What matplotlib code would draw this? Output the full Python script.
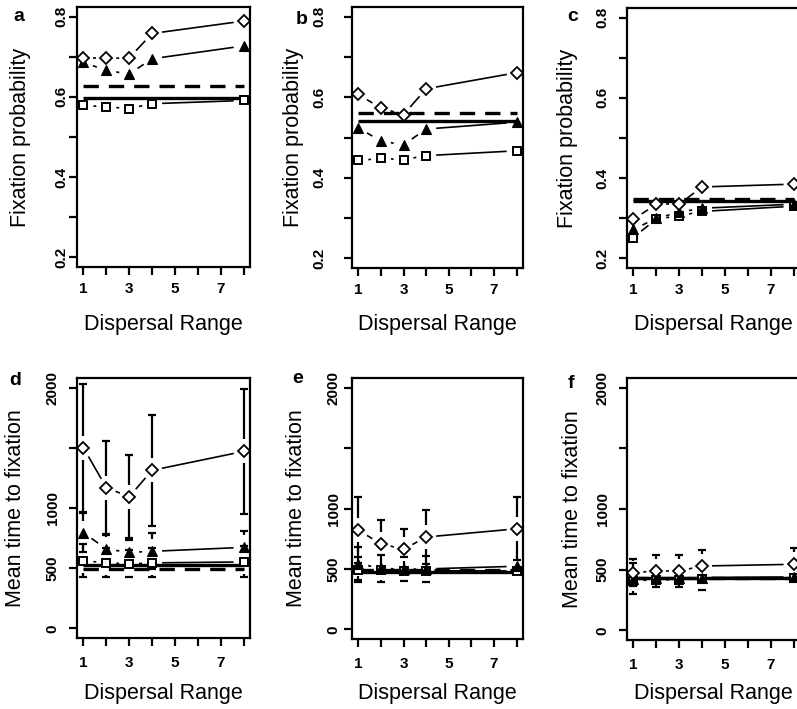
import numpy as np
import matplotlib
matplotlib.use('Agg')
import matplotlib.pyplot as plt

plt.rcParams['font.family'] = ['Liberation Sans', 'DejaVu Sans']

# ---------------- data ----------------
dispersal = [1, 2, 3, 4, 8]
x_ticks = [1, 2, 3, 4, 5, 6, 7, 8]
x_ticklabels = ['1', '', '3', '', '5', '', '7', '']
prob_ticks = [0.2, 0.3, 0.4, 0.5, 0.6, 0.7, 0.8]
prob_ticklabels = ['0.2', '', '0.4', '', '0.6', '', '0.8']
time_ticks = [0, 500, 1000, 1500, 2000]
time_ticklabels = ['0', '500', '1000', '', '2000']
panel_letters = ['a', 'b', 'c', 'd', 'e', 'f']
xlabel_text = 'Dispersal Range'
ylabel_prob = 'Fixation probability'
ylabel_time = 'Mean time to fixation'

# fixation probability (top row)
a_diamond = [0.696, 0.696, 0.697, 0.758, 0.789]
a_triangle = [0.686, 0.666, 0.657, 0.695, 0.727]
a_square = [0.579, 0.575, 0.571, 0.583, 0.591]
a_dashed, a_solid = 0.627, 0.596

b_diamond = [0.607, 0.573, 0.557, 0.621, 0.661]
b_triangle = [0.524, 0.491, 0.482, 0.521, 0.538]
b_square = [0.443, 0.448, 0.445, 0.455, 0.467]
b_dashed, b_solid = 0.560, 0.542

c_diamond = [0.297, 0.335, 0.335, 0.378, 0.385]
c_triangle = [0.272, 0.300, 0.315, 0.325, 0.335]
c_square = [0.252, 0.298, 0.306, 0.317, 0.330]
c_dashed, c_solid = 0.347, 0.342

# mean time to fixation (bottom row) with spread
d_diamond = [1500, 1170, 1093, 1313, 1470]
d_diamond_sd = [530, 390, 344, 462, 516]
d_triangle = [796, 659, 631, 640, 673]
d_triangle_sd = [160, 120, 100, 150, 132]
d_square = [563, 544, 536, 544, 552]
d_square_sd = [140, 121, 113, 121, 129]
d_dashed, d_solid = 490, 525

e_diamond = [819, 709, 662, 764, 832]
e_diamond_sd = [274, 192, 170, 220, 261]
e_triangle = [544, 505, 498, 500, 522]
e_triangle_sd = [137, 110, 100, 110, 50]
e_square = [495, 488, 485, 485, 483]
e_square_sd = [100, 95, 95, 92, 92]
e_dashed, e_solid = 490, 478

f_diamond = [475, 489, 489, 530, 544]
f_diamond_sd = [110, 132, 132, 129, 137]
f_triangle = [425, 430, 432, 435, 440]
f_triangle_sd = [128, 80, 85, 100, 95]
f_square = [410, 415, 418, 425, 430]
f_square_sd = [75, 70, 70, 80, 75]
f_dashed, f_solid = 430, 435

# ---------------- layout ----------------
W, H = 797, 709
fig = plt.figure(figsize=(W / 100, H / 100), dpi=100)


def px_axes(l, t, r, b):
    return fig.add_axes([l / W, 1 - b / H, (r - l) / W, (b - t) / H])


def px_text(x, y, s, **kw):
    fig.text(x / W, 1 - y / H, s, **kw)


MARK = dict(diamond=dict(marker='D', ms=6.4, mfc='white', mec='black', mew=1.3),
            triangle=dict(marker='^', ms=7.0, mfc='black', mec='black', mew=0.8),
            square=dict(marker='s', ms=6.2, mfc='white', mec='black', mew=1.4))


def type_b(ax, xs, ys, gap=10.0, lw=1.2):
    T = ax.transData
    inv = T.inverted()
    P = T.transform(np.column_stack([xs, ys]))
    for p0, p1 in zip(P[:-1], P[1:]):
        d = p1 - p0
        L = np.hypot(*d)
        if L <= 2 * gap + 1:
            continue
        u = d / L
        seg = inv.transform([p0 + u * gap, p1 - u * gap])
        ax.plot(seg[:, 0], seg[:, 1], color='black', lw=lw,
                solid_capstyle='butt', zorder=3)


def ci_bars(ax, xs, ys, sds, gap=12.0, cap=6.0, lw=1.6):
    T = ax.transData
    inv = T.inverted()
    for x, y, s in zip(xs, ys, sds):
        px, py = T.transform((x, y))
        for end_val in (y + s, y - s):
            _, pe = T.transform((x, end_val))
            if abs(pe - py) <= gap:
                continue
            sign = 1 if pe > py else -1
            pts = inv.transform([(px, py + sign * gap), (px, pe)])
            ax.plot(pts[:, 0], pts[:, 1], color='black', lw=lw,
                    solid_capstyle='butt', zorder=2)
            ax.plot([x], [end_val], marker='_', ms=cap, mew=lw,
                    color='black', zorder=2)


def ref_lines(ax, dashed, solid):
    ax.plot([1, 8], [solid, solid], color='black', lw=2.4,
            solid_capstyle='butt', zorder=2.5)
    ax.plot([1, 8], [dashed, dashed], color='black', lw=2.4,
            linestyle=(0, (4.6, 3.0)), dash_capstyle='butt', zorder=2.5)


def style_axes(ax, ylim, yticks, yticklabels, ypad, xpad):
    ax.set_xlim(0.72, 8.28)
    ax.set_ylim(*ylim)
    ax.set_xticks(x_ticks)
    ax.set_xticklabels(x_ticklabels)
    ax.set_yticks(yticks)
    ax.set_yticklabels(yticklabels, rotation=90, va='center')
    for sp in ax.spines.values():
        sp.set_linewidth(1.6)
    ax.tick_params(axis='both', direction='out', length=6, width=1.6,
                   labelsize=11)
    ax.tick_params(axis='y', pad=ypad)
    ax.tick_params(axis='x', pad=xpad)
    for lab in ax.get_xticklabels() + ax.get_yticklabels():
        lab.set_fontweight('bold')


top_panels = [
    ((77, 7, 250, 267), a_diamond, a_triangle, a_square, a_dashed, a_solid, 0.5),
    ((352, 7, 523, 268), b_diamond, b_triangle, b_square, b_dashed, b_solid, 12.5),
    ((627, 8, 800, 268), c_diamond, c_triangle, c_square, c_dashed, c_solid, 7),
]
bottom_panels = [
    ((77, 378, 250, 638), d_diamond, d_diamond_sd, d_triangle, d_triangle_sd,
     d_square, d_square_sd, d_dashed, d_solid, 6.4),
    ((352, 378, 523, 639), e_diamond, e_diamond_sd, e_triangle, e_triangle_sd,
     e_square, e_square_sd, e_dashed, e_solid, 2.1),
    ((627, 378, 800, 640), f_diamond, f_diamond_sd, f_triangle, f_triangle_sd,
     f_square, f_square_sd, f_dashed, f_solid, 6.4),
]

axes = []
for box, dia, tri, sq, dsh, sol, ypad in top_panels:
    ax = px_axes(*box)
    style_axes(ax, (0.176, 0.824), prob_ticks, prob_ticklabels, ypad, 5)
    ref_lines(ax, dsh, sol)
    for ys, key in ((sq, 'square'), (tri, 'triangle'), (dia, 'diamond')):
        type_b(ax, dispersal, ys)
        ax.plot(dispersal, ys, linestyle='none', zorder=4, **MARK[key])
    axes.append((ax, box))

for box, dia, dsd, tri, tsd, sq, ssd, dsh, sol, ypad in bottom_panels:
    ax = px_axes(*box)
    style_axes(ax, (-80, 2080), time_ticks, time_ticklabels, ypad, 7)
    ref_lines(ax, dsh, sol)
    for ys, sds in ((sq, ssd), (tri, tsd), (dia, dsd)):
        ci_bars(ax, dispersal, ys, sds)
    for ys, key in ((sq, 'square'), (tri, 'triangle'), (dia, 'diamond')):
        type_b(ax, dispersal, ys)
        ax.plot(dispersal, ys, linestyle='none', zorder=4, **MARK[key])
    axes.append((ax, box))

# axis titles and panel letters (pixel placement)
ylab_x = [21, 293, 567, 16, 297, 572]
letter_pos = [(19, 21), (302, 24), (573, 21), (15, 385), (298, 383), (571, 388)]
for i, (ax, (l, t, r, b)) in enumerate(axes):
    ytxt = ylabel_prob if i < 3 else ylabel_time
    px_text(ylab_x[i], (t + b) / 2, ytxt, rotation=90, ha='center',
            va='center', fontsize=15.5)
    xl_y = 325 if i < 3 else 693
    px_text((l + r) / 2, xl_y, xlabel_text, ha='center', va='center',
            fontsize=15.5)
    lx, ly = letter_pos[i]
    px_text(lx, ly, panel_letters[i], ha='center', va='baseline',
            fontsize=14, fontweight='bold')

fig.savefig('out.png', dpi=100)
